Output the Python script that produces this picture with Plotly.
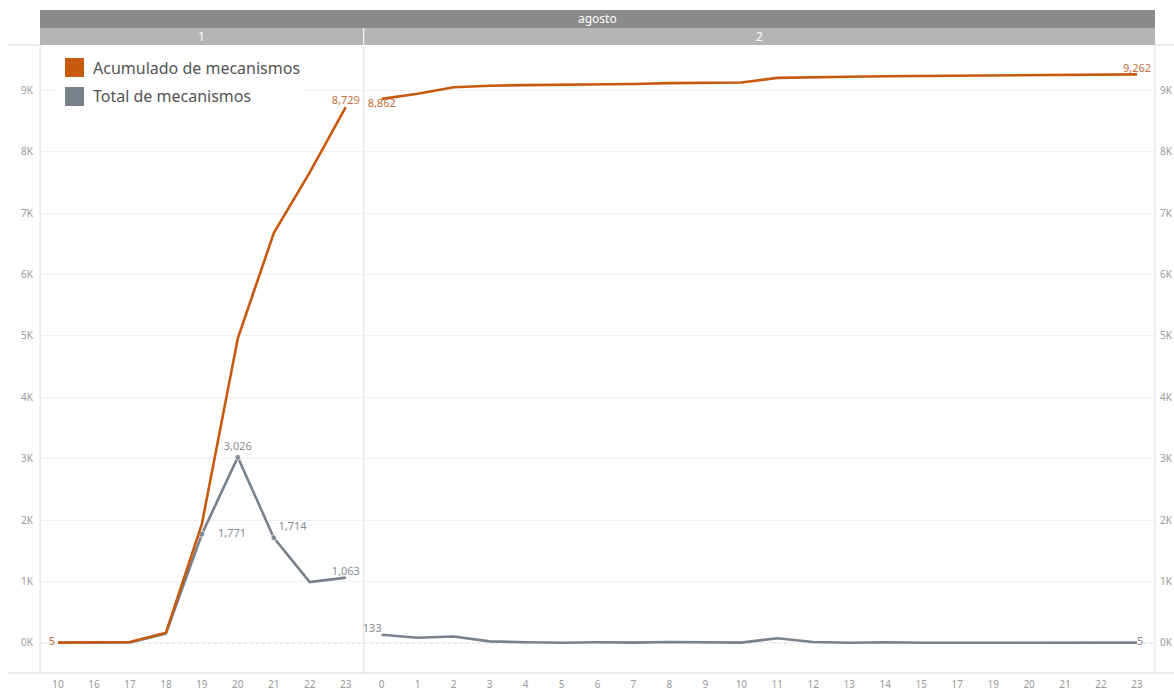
import plotly.graph_objects as go

month_label = "agosto"
day_labels = ["1", "2"]
hours_day1 = ["10", "16", "17", "18", "19", "20", "21", "22", "23"]
hours_day2 = ["0", "1", "2", "3", "4", "5", "6", "7", "8", "9", "10", "11",
              "12", "13", "14", "15", "17", "19", "20", "21", "22", "23"]

total_day1 = [5, 3, 7, 150, 1771, 3026, 1714, 990, 1063]
total_day2 = [133, 85, 105, 25, 10, 2, 10, 5, 15, 5, 5, 75,
              15, 3, 10, 3, 3, 3, 10, 3, 3, 5]

acum_day1 = [5, 8, 15, 165, 1936, 4962, 6676, 7666, 8729]
acum_day2 = [8862, 8947, 9052, 9077, 9087, 9089, 9099, 9104, 9119, 9124, 9129, 9204,
             9219, 9222, 9232, 9235, 9238, 9241, 9251, 9254, 9257, 9262]

acum_name = "Acumulado de mecanismos"
total_name = "Total de mecanismos"

ORANGE = "#c85a10"
GRAY = "#78818c"
ORANGE_TXT = "#c3703a"
GRAY_TXT = "#858c96"
TICK = "#9a9a9a"
FONT = "Noto Sans"

n1 = len(hours_day1)
n2 = len(hours_day2)
x1 = list(range(n1))
x2 = list(range(n1, n1 + n2))
ticktext = hours_day1 + hours_day2


def fmt(v):
    return f"{v:,}"


acum_lab1 = [""] * n1
acum_pos1 = ["top center"] * n1
acum_lab1[0] = fmt(acum_day1[0]) + " "; acum_pos1[0] = "middle left"
acum_lab1[-1] = fmt(acum_day1[-1]); acum_pos1[-1] = "top center"
acum_lab2 = [""] * n2
acum_pos2 = ["top center"] * n2
acum_lab2[0] = fmt(acum_day2[0]); acum_pos2[0] = "bottom center"
acum_lab2[-1] = fmt(acum_day2[-1]); acum_pos2[-1] = "top center"

tot_lab1 = [""] * n1
tot_pos1 = ["top center"] * n1
for i, p in [(4, "middle right"), (5, "top center"), (6, "top right"), (8, "top center")]:
    tot_lab1[i] = fmt(total_day1[i]); tot_pos1[i] = p
tot_lab1[4] = "    " + tot_lab1[4]
tot_lab2 = [""] * n2
tot_pos2 = ["top center"] * n2
tot_lab2[0] = fmt(total_day2[0]); tot_pos2[0] = "top left"
tot_lab2[-1] = fmt(total_day2[-1]); tot_pos2[-1] = "middle right"

mk1 = [0] * n1
for i in (4, 5, 6):
    mk1[i] = 6

fig = go.Figure()

tf_gray = dict(color=GRAY_TXT, size=11, family=FONT)
tf_orange = dict(color=ORANGE_TXT, size=11, family=FONT)

fig.add_trace(go.Scatter(x=x1, y=total_day1, mode="lines+markers+text", text=tot_lab1,
                         textposition=tot_pos1, textfont=tf_gray, name=total_name,
                         line=dict(color=GRAY, width=2.6), marker=dict(size=mk1, color=GRAY),
                         showlegend=False, cliponaxis=False))
fig.add_trace(go.Scatter(x=x2, y=total_day2, mode="lines+text", text=tot_lab2, name=total_name,
                         textposition=tot_pos2, textfont=tf_gray,
                         line=dict(color=GRAY, width=2.6), showlegend=False, cliponaxis=False))
fig.add_trace(go.Scatter(x=x1, y=acum_day1, mode="lines+text", text=acum_lab1, name=acum_name,
                         textposition=acum_pos1, textfont=tf_orange,
                         line=dict(color=ORANGE, width=2.6), showlegend=False, cliponaxis=False))
fig.add_trace(go.Scatter(x=x2, y=acum_day2, mode="lines+text", text=acum_lab2, name=acum_name,
                         textposition=acum_pos2, textfont=tf_orange,
                         line=dict(color=ORANGE, width=2.6), showlegend=False, cliponaxis=False))
fig.add_trace(go.Scatter(x=[0], y=[0], yaxis="y2", mode="markers",
                         marker=dict(size=0, opacity=0), showlegend=False, hoverinfo="skip"))

yvals = [i * 1000 for i in range(10)]
ytext = [f"{i}K" for i in range(10)]
yrange = [-490, 9740]

W, H = 1174, 692
L, R, T, B = 40, 19, 45, 19
pw = W - L - R
ph = H - T - B

shapes = []
band2_top = 1 + 17 / ph
band1_top = 1 + 35 / ph
shapes.append(dict(type="rect", xref="x", yref="paper", x0=-0.5, x1=n1 + n2 - 0.5,
                   y0=band2_top, y1=band1_top, fillcolor="#8a8a8a", line=dict(width=0), layer="below"))
shapes.append(dict(type="rect", xref="x", yref="paper", x0=-0.5, x1=n1 - 0.5,
                   y0=1, y1=band2_top, fillcolor="#b5b5b5", line=dict(width=0), layer="below"))
shapes.append(dict(type="rect", xref="x", yref="paper", x0=n1 - 0.5, x1=n1 + n2 - 0.5,
                   y0=1, y1=band2_top, fillcolor="#b5b5b5", line=dict(width=0), layer="below"))
shapes.append(dict(type="line", xref="x", yref="paper", x0=n1 - 0.5, x1=n1 - 0.5,
                   y0=1, y1=band2_top, line=dict(color="white", width=1)))
shapes.append(dict(type="line", xref="x", yref="paper", x0=n1 - 0.5, x1=n1 - 0.5,
                   y0=0, y1=1, line=dict(color="#dcdcdc", width=1), layer="below"))
shapes.append(dict(type="line", xref="paper", yref="y", x0=0, x1=1, y0=0, y1=0,
                   line=dict(color="#c8c8c8", width=1, dash="dot"), layer="below"))
shapes.append(dict(type="line", xref="paper", yref="paper", x0=-32 / pw, x1=1 + R / pw,
                   y0=0, y1=0, line=dict(color="#d8d8d8", width=1)))
shapes.append(dict(type="line", xref="paper", yref="paper", x0=-32 / pw, x1=0,
                   y0=1, y1=1, line=dict(color="#d8d8d8", width=1)))
shapes.append(dict(type="line", xref="paper", yref="paper", x0=1, x1=1 + R / pw,
                   y0=1, y1=1, line=dict(color="#d8d8d8", width=1)))
shapes.append(dict(type="line", xref="paper", yref="paper", x0=0, x1=0,
                   y0=0, y1=1, line=dict(color="#e0e0e0", width=1)))
shapes.append(dict(type="line", xref="paper", yref="paper", x0=1, x1=1,
                   y0=0, y1=1, line=dict(color="#e0e0e0", width=1)))


def px_x(px):
    return (px - L) / pw


def px_y(py):
    return 1 - (py - T) / ph


legend_items = [(acum_name, ORANGE, 58), (total_name, GRAY, 87)]
shapes.append(dict(type="rect", xref="paper", yref="paper", x0=px_x(58), x1=px_x(305),
                   y0=px_y(112), y1=px_y(52), fillcolor="white", line=dict(width=0)))
annotations = []
for name, col, top in legend_items:
    shapes.append(dict(type="rect", xref="paper", yref="paper", x0=px_x(65), x1=px_x(84),
                       y0=px_y(top + 19), y1=px_y(top), fillcolor=col, line=dict(width=0)))
    annotations.append(dict(text=name, xref="paper", yref="paper", x=px_x(91), y=px_y(top + 9.5),
                            xanchor="left", yanchor="middle", showarrow=False,
                            font=dict(size=16, color="#555555", family=FONT)))

annotations += [
    dict(text=month_label, xref="x", yref="paper", x=(n1 + n2 - 1) / 2, y=(band2_top + band1_top) / 2,
         showarrow=False, font=dict(color="white", size=12, family=FONT), yanchor="middle"),
    dict(text=day_labels[0], xref="x", yref="paper", x=(n1 - 1) / 2, y=(1 + band2_top) / 2,
         showarrow=False, font=dict(color="white", size=12, family=FONT), yanchor="middle"),
    dict(text=day_labels[1], xref="x", yref="paper", x=n1 + (n2 - 1) / 2, y=(1 + band2_top) / 2,
         showarrow=False, font=dict(color="white", size=12, family=FONT), yanchor="middle"),
]

fig.update_layout(
    width=W, height=H,
    margin=dict(l=L, r=R, t=T, b=B, autoexpand=False),
    paper_bgcolor="white", plot_bgcolor="white",
    font=dict(family=FONT, color=TICK, size=10),
    showlegend=False,
    xaxis=dict(range=[-0.5, n1 + n2 - 0.5], tickvals=x1 + x2, ticktext=ticktext,
               showgrid=False, zeroline=False, showline=False, ticks="", automargin=False,
               tickfont=dict(size=10, color=TICK), fixedrange=True, ticklabelstandoff=4),
    yaxis=dict(range=yrange, tickvals=yvals, ticktext=ytext, showgrid=True, automargin=False,
               gridcolor="#f0f0f0", gridwidth=1, zeroline=False, showline=False,
               tickfont=dict(size=10, color=TICK), ticks="", ticklabelstandoff=6),
    yaxis2=dict(range=yrange, tickvals=yvals, ticktext=ytext, overlaying="y", side="right",
                showgrid=False, zeroline=False, showline=False, automargin=False,
                tickfont=dict(size=10, color=TICK), ticks="", ticklabelstandoff=4),
    shapes=shapes,
    annotations=annotations,
)

fig.write_html("out.html", config={"displayModeBar": False},
               post_script="document.body.style.margin='0';document.body.style.overflow='hidden';")
